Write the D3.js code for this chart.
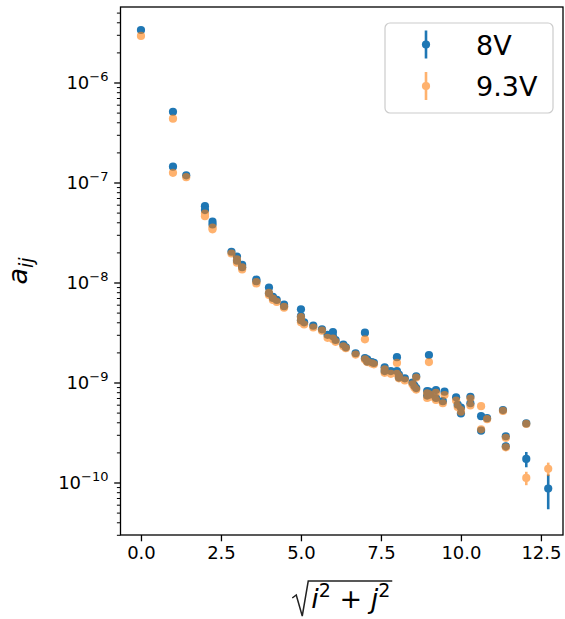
<!DOCTYPE html>
<html><head><meta charset="utf-8">
<script src="https://cdn.jsdelivr.net/npm/d3@7"></script>
<style>body{margin:0;background:#fff} svg{display:block} text{font-family:"DejaVu Sans",sans-serif;fill:#000}</style>
</head><body><svg id="c" width="565" height="619"></svg>
<script>
// distances sqrt(i^2+j^2)
const dist = [0, 1, 1, 1.414,
  2, 2, 2.236, 2.236, 2.828,
  3, 3, 3.162, 3.162, 3.606, 3.606,
  4, 4, 4.123, 4.123, 4.243, 4.472, 4.472,
  5, 5, 5, 5.099, 5.385, 5.657, 5.831,
  6, 6, 6.083, 6.325, 6.403, 6.708,
  7, 7, 7.071, 7.071, 7.211, 7.28, 7.616, 7.616, 7.81,
  8, 8, 8.062, 8.062, 8.246, 8.485, 8.544, 8.602, 8.602, 8.944, 8.944,
  9, 9, 9.055, 9.22, 9.22, 9.434, 9.487, 9.849, 9.899,
  10, 10, 10.296, 10.296, 10.63, 10.63, 10.817,
  11.314, 11.402, 11.402, 12.042, 12.042, 12.728];
// 8V values
const v8 = [3.35e-6, 5.1e-7, 1.44e-7, 1.18e-7,
  5.8e-8, 5.3e-8, 4.06e-8, 3.8e-8, 2.03e-8,
  1.82e-8, 1.65e-8, 1.5e-8, 1.42e-8, 1.07e-8, 1.03e-8,
  8.9e-9, 7.8e-9, 7.2e-9, 7.0e-9, 6.7e-9, 6.0e-9, 5.8e-9,
  5.4e-9, 4.6e-9, 4.2e-9, 4.0e-9, 3.7e-9, 3.4e-9, 3.0e-9,
  3.2e-9, 2.9e-9, 2.66e-9, 2.4e-9, 2.25e-9, 1.96e-9,
  3.15e-9, 1.75e-9, 1.7e-9, 1.62e-9, 1.6e-9, 1.57e-9, 1.42e-9, 1.3e-9, 1.3e-9,
  1.79e-9, 1.3e-9, 1.2e-9, 1.12e-9, 1.1e-9, 1.0e-9, 9.3e-10, 1.15e-9, 8.8e-10, 7.4e-10, 8.2e-10,
  1.88e-9, 8.1e-10, 7.6e-10, 8.4e-10, 7.0e-10, 6.5e-10, 8.1e-10, 7.1e-10, 6.0e-10,
  4.9e-10, 5.6e-10, 7.2e-10, 6.2e-10, 4.6e-10, 3.3e-10, 4.4e-10,
  5.3e-10, 2.9e-10, 2.3e-10, 3.9e-10, 1.72e-10, 8.7e-11];
const e8 = [0, 0, 0, 0,
  0, 0, 0, 0, 0,
  0, 0, 0, 0, 0, 0,
  0, 0, 0, 0, 0, 0, 0,
  0, 0, 0, 0, 0, 0, 0,
  0, 0, 0, 0, 0, 0,
  0, 0, 0, 0, 0, 0, 0, 0, 0,
  0, 0, 0, 0, 0, 0, 0, 0, 0, 0, 0,
  0, 0, 0, 0, 0, 0, 0, 0, 0,
  0, 0, 0, 0, 0, 2e-11, 0,
  0, 2e-11, 2e-11, 0, 3e-11, 3.3e-11];
// 9.3V values
const v93 = [2.92e-6, 4.35e-7, 1.25e-7, 1.13e-7,
  4.9e-8, 4.6e-8, 3.55e-8, 3.4e-8, 1.95e-8,
  1.7e-8, 1.58e-8, 1.42e-8, 1.35e-8, 1.01e-8, 9.8e-9,
  7.9e-9, 7.5e-9, 6.9e-9, 6.7e-9, 6.4e-9, 5.7e-9, 5.6e-9,
  4.5e-9, 4.2e-9, 4.0e-9, 3.8e-9, 3.55e-9, 3.3e-9, 2.8e-9,
  2.75e-9, 2.7e-9, 2.55e-9, 2.3e-9, 2.2e-9, 1.9e-9,
  2.7e-9, 1.7e-9, 1.62e-9, 1.6e-9, 1.55e-9, 1.52e-9, 1.35e-9, 1.25e-9, 1.22e-9,
  1.57e-9, 1.22e-9, 1.15e-9, 1.1e-9, 1.05e-9, 9.6e-10, 8.9e-10, 1.12e-9, 8.5e-10, 7.0e-10, 7.8e-10,
  1.6e-9, 7.6e-10, 7.2e-10, 7.9e-10, 6.7e-10, 6.2e-10, 7.5e-10, 6.6e-10, 5.7e-10,
  5.1e-10, 5.3e-10, 6.9e-10, 5.9e-10, 5.8e-10, 3.4e-10, 4.3e-10,
  5.2e-10, 2.8e-10, 2.25e-10, 3.85e-10, 1.11e-10, 1.37e-10];
const e93 = [0, 0, 0, 0,
  0, 0, 0, 0, 0,
  0, 0, 0, 0, 0, 0,
  0, 0, 0, 0, 0, 0, 0,
  0, 0, 0, 0, 0, 0, 0,
  0, 0, 0, 0, 0, 0,
  0, 0, 0, 0, 0, 0, 0, 0, 0,
  0, 0, 0, 0, 0, 0, 0, 0, 0, 0, 0,
  0, 0, 0, 0, 0, 0, 0, 0, 0,
  0, 0, 0, 0, 0, 1.5e-11, 0,
  0, 1.5e-11, 1.5e-11, 0, 1.7e-11, 2.1e-11];
const seriesNames = ["8V", "9.3V"];
const seriesColors = ["#1f77b4", "#ff7f0e"];
const seriesAlpha = [1, 0.6];
const xTicks = [0, 2.5, 5, 7.5, 10, 12.5];
const yDecades = [-10, -9, -8, -7, -6];

const L = 120.5, R = 563, T = 7, B = 535;
const svg = d3.select("#c");
const x = d3.scaleLinear().domain([-0.64, 13.19]).range([L, R]);
const y = d3.scaleLog().domain([Math.pow(10, -10.525), Math.pow(10, -5.245)]).range([B, T]);

// data
const series = [
  {name: seriesNames[0], v: v8, e: e8},
  {name: seriesNames[1], v: v93, e: e93}
];
const plot = svg.append("g");
series.forEach((s, k) => {
  const g = plot.append("g").attr("opacity", seriesAlpha[k]);
  const pts = dist.map((d, i) => ({d, v: s.v[i], e: s.e[i]}));
  g.selectAll("line.eb").data(pts.filter(p => p.e > 0)).join("line")
    .attr("x1", p => x(p.d)).attr("x2", p => x(p.d))
    .attr("y1", p => y(p.v - p.e)).attr("y2", p => y(p.v + p.e))
    .attr("stroke", seriesColors[k]).attr("stroke-width", 2.6);
  g.selectAll("circle").data(pts).join("circle")
    .attr("cx", p => x(p.d)).attr("cy", p => y(p.v)).attr("r", 4.1)
    .attr("fill", seriesColors[k]);
});

// axes
const xAxis = d3.axisBottom(x).tickValues(xTicks).tickFormat(d3.format(".1f"))
  .tickSize(6.3).tickPadding(5);
const gx = svg.append("g").attr("transform", `translate(0,${B})`).call(xAxis);
gx.select(".domain").remove();
gx.selectAll(".tick line").attr("stroke", "#000").attr("stroke-width", 1.3);
gx.selectAll(".tick text").attr("font-size", 18).attr("font-family", "DejaVu Sans").attr("fill", "#222");

const minor = [];
for (let dcd = -11; dcd <= -6; dcd++) for (let m = 2; m <= 9; m++) {
  const val = m * Math.pow(10, dcd);
  if (val >= y.domain()[0] && val <= y.domain()[1]) minor.push(val);
}
const gyMinor = svg.append("g").attr("transform", `translate(${L},0)`)
  .call(d3.axisLeft(y).tickValues(minor).tickSize(3.6).tickFormat(""));
gyMinor.select(".domain").remove();
gyMinor.selectAll(".tick line").attr("stroke", "#000").attr("stroke-width", 1.0);

const major = yDecades.map(p => Math.pow(10, p));
const gy = svg.append("g").attr("transform", `translate(${L},0)`)
  .call(d3.axisLeft(y).tickValues(major).tickSize(6.3).tickFormat(""));
gy.select(".domain").remove();
gy.selectAll(".tick line").attr("stroke", "#000").attr("stroke-width", 1.3);
yDecades.forEach(p => {
  const t = svg.append("text").attr("x", L - 12).attr("y", y(Math.pow(10, p)) + 6.5)
    .attr("text-anchor", "end").attr("font-size", 18).attr("fill", "#222");
  t.append("tspan").text("10");
  t.append("tspan").attr("dy", -8).attr("font-size", 13).text("\u2212" + Math.abs(p));
});

// frame
svg.append("rect").attr("x", L).attr("y", T).attr("width", R - L).attr("height", B - T)
  .attr("fill", "none").attr("stroke", "#000").attr("stroke-width", 1.3);

// y label a_ij
const yl = svg.append("text").attr("transform", `translate(27,${(T + B) / 2}) rotate(-90)`)
  .attr("text-anchor", "middle").attr("font-size", 27).attr("fill", "#222");
yl.append("tspan").attr("font-style", "italic").text("a");
yl.append("tspan").attr("font-style", "italic").attr("font-size", 19).attr("dy", 6).text("ij");

// x label sqrt(i^2 + j^2)
const lcx = (L + R) / 2, lby = 608;
const xl = svg.append("text").attr("x", lcx + 9).attr("y", lby).attr("text-anchor", "middle")
  .attr("font-size", 27).attr("fill", "#222");
xl.append("tspan").attr("font-style", "italic").text("i");
xl.append("tspan").attr("font-size", 19).attr("dy", -11).text("2");
xl.append("tspan").attr("dy", 11).text(" + ");
xl.append("tspan").attr("font-style", "italic").text("j");
xl.append("tspan").attr("font-size", 19).attr("dy", -11).text("2");
const bb = xl.node().getBBox();
const rx0 = bb.x - 3, rtop = bb.y + 2;
svg.append("path")
  .attr("d", `M${rx0 - 16},${lby - 10} L${rx0 - 12},${lby - 13} L${rx0 - 6},${lby + 8} L${rx0},${rtop} L${bb.x + bb.width + 2},${rtop}`)
  .attr("fill", "none").attr("stroke", "#222").attr("stroke-width", 1.5);

// legend
const lg = svg.append("g");
lg.append("rect").attr("x", 385).attr("y", 23).attr("width", 168).attr("height", 90).attr("rx", 5)
  .attr("fill", "#fff").attr("fill-opacity", 0.8).attr("stroke", "#ccc").attr("stroke-width", 1.2);
seriesNames.forEach((n, k) => {
  const cy = 44.5 + k * 41.5;
  const g = lg.append("g").attr("opacity", seriesAlpha[k]);
  g.append("line").attr("x1", 426).attr("x2", 426).attr("y1", cy - 14).attr("y2", cy + 14)
    .attr("stroke", seriesColors[k]).attr("stroke-width", 2.6);
  g.append("circle").attr("cx", 426).attr("cy", cy).attr("r", 4.1).attr("fill", seriesColors[k]);
  lg.append("text").attr("x", 476).attr("y", cy + 10).attr("font-size", 27).attr("fill", "#222").text(n);
});
</script></body></html>
